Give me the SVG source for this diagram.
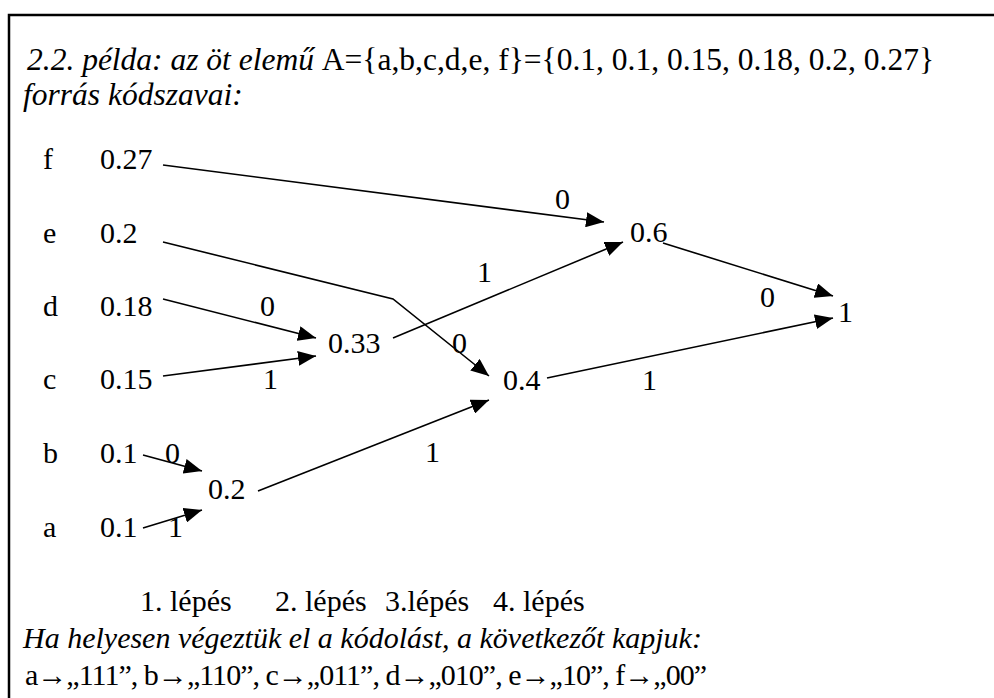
<svg xmlns="http://www.w3.org/2000/svg" width="994" height="698" viewBox="0 0 994 698">
<style>
.t text{font-size:30px;fill:#000}
.t #header text{font-size:31.5px}
.i{font-style:italic}
.c line,.c polyline{stroke:#000;stroke-width:1.6;fill:none}
</style>
<defs>
<marker id="ah" markerUnits="userSpaceOnUse" markerWidth="19" markerHeight="15" refX="18" refY="7.5" orient="auto">
<path d="M0,0 L18,7.5 L0,15 Z" fill="#000"/>
</marker>
</defs>
<rect x="0" y="0" width="994" height="698" fill="#fff"/>
<path d="M9,698 V15 H994" stroke="#000" stroke-width="2.5" fill="none"/>
<g class="t" font-family="Liberation Serif, Times New Roman, serif">
<g id="header">
<text x="27" y="70"><tspan class="i">2.2. példa: az öt elemű </tspan>A={a,b,c,d,e, f}={0.1, 0.1, 0.15, 0.18, 0.2, 0.27}</text>
<text x="23" y="105" class="i">forrás kódszavai:</text>
</g>
<g id="leaf-f"><text x="43" y="169">f</text><text x="100" y="169">0.27</text></g>
<g id="leaf-e"><text x="43" y="243">e</text><text x="100" y="243">0.2</text></g>
<g id="leaf-d"><text x="43" y="316">d</text><text x="100" y="316">0.18</text></g>
<g id="leaf-c"><text x="43" y="389">c</text><text x="100" y="389">0.15</text></g>
<g id="leaf-b"><text x="43" y="463">b</text><text x="100" y="463">0.1</text></g>
<g id="leaf-a"><text x="43" y="537">a</text><text x="100" y="537">0.1</text></g>
<g id="n02"><text x="208" y="499">0.2</text></g>
<g id="n033"><text x="328" y="353">0.33</text></g>
<g id="n04"><text x="503" y="390">0.4</text></g>
<g id="n06"><text x="630" y="242">0.6</text></g>
<g id="n1"><text x="838" y="322">1</text></g>
<g id="edge-labels">
<text x="555" y="209">0</text>
<text x="452" y="353">0</text>
<text x="260" y="316">0</text>
<text x="263" y="389">1</text>
<text x="477" y="282">1</text>
<text x="760" y="307">0</text>
<text x="642" y="390">1</text>
<text x="425" y="462">1</text>
<text x="165" y="463">0</text>
<text x="168" y="537">1</text>
</g>
<g id="footer">
<text x="140" y="611">1. lépés</text>
<text x="275" y="611">2. lépés</text>
<text x="385" y="611">3.lépés</text>
<text x="493" y="611">4. lépés</text>
<text x="23" y="648" class="i">Ha helyesen végeztük el a kódolást, a következőt kapjuk:</text>
<text x="25" y="685" textLength="682" lengthAdjust="spacing">a→„111”, b→„110”, c→„011”, d→„010”, e→„10”, f→„00”</text>
</g>
</g>
<g id="connectors" class="c">
<line x1="163" y1="165" x2="604" y2="222" marker-end="url(#ah)"/>
<polyline points="163,242 393,299 489,376" marker-end="url(#ah)"/>
<line x1="163" y1="299" x2="316" y2="338" marker-end="url(#ah)"/>
<line x1="163" y1="376" x2="316" y2="356" marker-end="url(#ah)"/>
<line x1="393" y1="338" x2="623" y2="242" marker-end="url(#ah)"/>
<line x1="663" y1="243" x2="833" y2="296" marker-end="url(#ah)"/>
<line x1="547" y1="378" x2="833" y2="318" marker-end="url(#ah)"/>
<line x1="258" y1="491" x2="489" y2="400" marker-end="url(#ah)"/>
<line x1="143" y1="455" x2="202" y2="471" marker-end="url(#ah)"/>
<line x1="143" y1="528" x2="202" y2="510" marker-end="url(#ah)"/>
</g>
</svg>
